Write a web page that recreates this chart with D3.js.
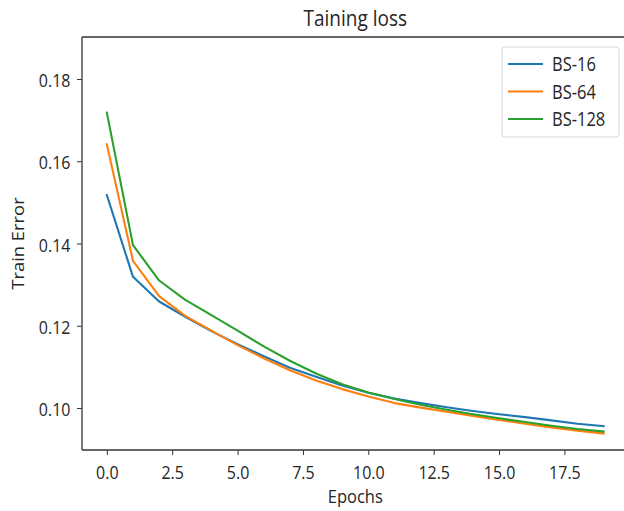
<!DOCTYPE html>
<html>
<head>
<meta charset="utf-8">
<script src="https://cdn.jsdelivr.net/npm/d3@7"></script>
<style>
  html, body { margin: 0; padding: 0; background: #fff; }
  svg { display: block; }
  text { font-family: "Open Sans", "DejaVu Sans", sans-serif; fill: #262626; }
</style>
</head>
<body>
<svg id="chart" width="624" height="511"></svg>
<script>
// ---- data ----
const epochs = d3.range(0, 20);
const seriesNames = ["BS-16", "BS-64", "BS-128"];
const bs16  = [0.1518, 0.1319, 0.1259, 0.1222, 0.1187, 0.1155, 0.1126, 0.1098, 0.1076, 0.1055,
               0.1037, 0.1023, 0.1012, 0.1002, 0.0993, 0.0985, 0.0978, 0.0970, 0.0962, 0.0956];
const bs64  = [0.1641, 0.1358, 0.1272, 0.1224, 0.1188, 0.1153, 0.1121, 0.1092, 0.1067, 0.1046,
               0.1028, 0.1012, 0.1001, 0.0991, 0.0981, 0.0971, 0.0962, 0.0953, 0.0945, 0.0938];
const bs128 = [0.1718, 0.1396, 0.1310, 0.1263, 0.1226, 0.1188, 0.1150, 0.1115, 0.1084, 0.1058,
               0.1038, 0.1022, 0.1008, 0.0996, 0.0985, 0.0975, 0.0966, 0.0957, 0.0949, 0.0943];
const xTicks = [0, 2.5, 5, 7.5, 10, 12.5, 15, 17.5];
const yTicks = [0.10, 0.12, 0.14, 0.16, 0.18];
const colors = ["#1f77b4", "#ff7f0e", "#2ca02c"];
const titleText = "Taining loss";
const xLabel = "Epochs";
const yLabel = "Train Error";

const allSeries = [bs16, bs64, bs128];

// ---- layout ----
const W = 624, H = 511;
const plot = { left: 82, top: 37, right: 628.5, bottom: 450 };
const SY = 1.15; // vertical text stretch seen in the reference

const svg = d3.select("#chart");
svg.append("rect").attr("width", W).attr("height", H).attr("fill", "#fff");

const x = d3.scaleLinear().domain([-0.95, 19.95]).range([plot.left, plot.right]);
const y = d3.scaleLinear().domain([0.0898, 0.1902]).range([plot.bottom, plot.top]);

// lines
const line = d3.line().x((d, i) => x(epochs[i])).y(d => y(d));
const gLines = svg.append("g");
allSeries.forEach((s, k) => {
  gLines.append("path")
    .datum(s)
    .attr("d", line)
    .attr("fill", "none")
    .attr("stroke", colors[k])
    .attr("stroke-width", 2.1)
    .attr("stroke-linejoin", "round")
    .attr("stroke-linecap", "square");
});

// axes
const xAxis = d3.axisBottom(x).tickValues(xTicks).tickFormat(d3.format(".1f")).tickSize(5);
const yAxis = d3.axisLeft(y).tickValues(yTicks).tickFormat(d3.format(".2f")).tickSize(5);

const gx = svg.append("g").attr("transform", `translate(0,${plot.bottom})`).call(xAxis);
const gy = svg.append("g").attr("transform", `translate(${plot.left},0)`).call(yAxis);
[gx, gy].forEach(g => {
  g.select(".domain").remove();
  g.selectAll(".tick line").attr("stroke", "#333").attr("stroke-width", 1);
  g.selectAll(".tick text").attr("font-size", 16).attr("fill", "#333")
    .style("font-family", '"Open Sans", "DejaVu Sans", sans-serif')
    .attr("x", null).attr("y", null).attr("dy", null);
});
gx.selectAll(".tick text").attr("transform", `translate(0,28.5) scale(1,${SY})`);
gy.selectAll(".tick text").attr("transform", `translate(-11.5,7.5) scale(1,${SY})`);

// spines (right spine lies outside the visible image)
const spine = svg.append("g").attr("fill", "none").attr("stroke", "#333").attr("stroke-width", 1.3);
spine.append("line").attr("x1", plot.left).attr("x2", plot.left).attr("y1", plot.top).attr("y2", plot.bottom);
spine.append("line").attr("x1", plot.left).attr("x2", W + 10).attr("y1", plot.bottom).attr("y2", plot.bottom);
spine.append("line").attr("x1", plot.left).attr("x2", W + 10).attr("y1", plot.top).attr("y2", plot.top);

// title & labels
svg.append("text")
  .attr("transform", `translate(${(plot.left + plot.right) / 2},26) scale(1,${SY})`)
  .attr("text-anchor", "middle").attr("font-size", 19).attr("fill", "#262626")
  .text(titleText);
svg.append("text")
  .attr("transform", `translate(${(plot.left + plot.right) / 2},503) scale(1,${SY})`)
  .attr("text-anchor", "middle").attr("font-size", 16.5).attr("fill", "#333")
  .text(xLabel);
svg.append("text")
  .attr("transform", `translate(24,${(plot.top + plot.bottom) / 2}) rotate(-90) scale(${SY},1)`)
  .attr("text-anchor", "middle").attr("font-size", 16).attr("fill", "#333")
  .text(yLabel);

// legend
const leg = { x: 502, y: 47, w: 117, h: 90 };
const gLeg = svg.append("g");
gLeg.append("rect")
  .attr("x", leg.x).attr("y", leg.y).attr("width", leg.w).attr("height", leg.h)
  .attr("rx", 3).attr("fill", "#fff").attr("fill-opacity", 0.85)
  .attr("stroke", "#d9d9d9").attr("stroke-width", 1);
const rowY = d3.scalePoint().domain(seriesNames).range([leg.y + 17, leg.y + 72]);
seriesNames.forEach((name, k) => {
  const yy = rowY(name);
  gLeg.append("line")
    .attr("x1", leg.x + 6).attr("x2", leg.x + 41).attr("y1", yy).attr("y2", yy)
    .attr("stroke", colors[k]).attr("stroke-width", 2.1);
  gLeg.append("text")
    .attr("transform", `translate(${leg.x + 50},${yy}) scale(1,${SY * 1.08})`)
    .attr("dy", "0.36em").attr("font-size", 16.5).attr("fill", "#333")
    .text(name);
});
</script>
</body>
</html>
